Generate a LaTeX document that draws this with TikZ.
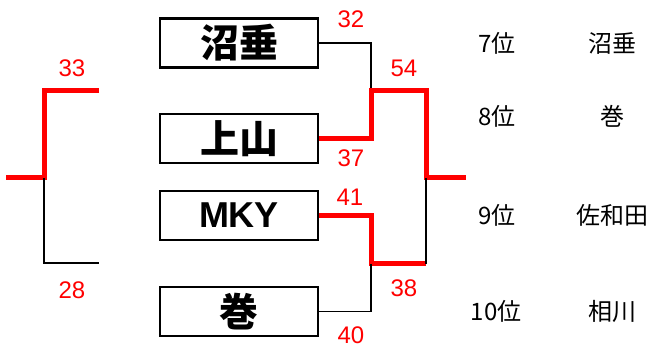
\documentclass[tikz,border=0pt]{standalone}
\usepackage{fontspec}
\newfontfamily\jp{Noto Sans CJK JP}
\newfontfamily\num{Liberation Sans}
\begin{document}
\begin{tikzpicture}[x=1pt,y=-1pt,
  team/.style={draw=black,line width=2.5pt,minimum width=158pt,minimum height=49pt,inner sep=0pt,font=\jp\bfseries\fontsize{39}{39}\selectfont},
  score/.style={text=red,inner sep=0pt,font=\num\fontsize{24}{24}\selectfont},
  rank/.style={inner sep=0pt,font=\jp\fontsize{24}{24}\selectfont},
  blk/.style={draw=black,line width=1.8pt},
  win/.style={draw=red,line width=5pt,line join=miter}]
\useasboundingbox (0,0) rectangle (657,347);
% team boxes
\node[team] (numa) at (239,43) {沼垂};
\node[team] (kami) at (239,138.5) {上山};
\node[team,font=\num\bfseries\fontsize{36}{36}\selectfont] (mky) at (239,215.5) {MKY};
\node[team] (maki) at (239,311.5) {巻};
% junctions
\coordinate (j1) at (371,90.5);
\coordinate (f1) at (426,90.5);
\coordinate (j2) at (371,264);
\coordinate (f2) at (426,264);
\coordinate (m) at (426,178);
\coordinate (fin) at (466,178);
% bracket right
\draw[blk] (numa.east) -| (j1);
\draw[win] (kami.east) -| (j1) -- (f1) |- (fin);
\draw[win] (mky.east) -| (j2) -- (f2);
\draw[blk] (maki.east) -| (j2);
\draw[blk] (f2) -- (m);
% bracket left
\coordinate (a) at (99,90.5);
\coordinate (b) at (44,178);
\coordinate (c) at (6,178);
\coordinate (d) at (99,263);
\draw[win] (a) -| (b) -- (c);
\draw[blk,line width=2.2pt] (b) |- (d);
% scores
\node[score] (s33) at (72,68) {33};
\node[score] (s28) at (72,290) {28};
\node[score] (s32) at (351,19) {32};
\node[score] (s54) at (404,68) {54};
\node[score] (s37) at (351,158) {37};
\node[score] (s41) at (350,197) {41};
\node[score] (s38) at (404,288) {38};
\node[score] (s40) at (351,335) {40};
% ranking
\node[rank] (r7) at (497,43) {7位};
\node[rank] (t7) at (612,43) {沼垂};
\node[rank] (r8) at (497,116) {8位};
\node[rank] (t8) at (612,116) {巻};
\node[rank] (r9) at (497,215) {9位};
\node[rank] (t9) at (612,215) {佐和田};
\node[rank] (r10) at (496,311) {10位};
\node[rank] (t10) at (612,311) {相川};
\end{tikzpicture}
\end{document}
